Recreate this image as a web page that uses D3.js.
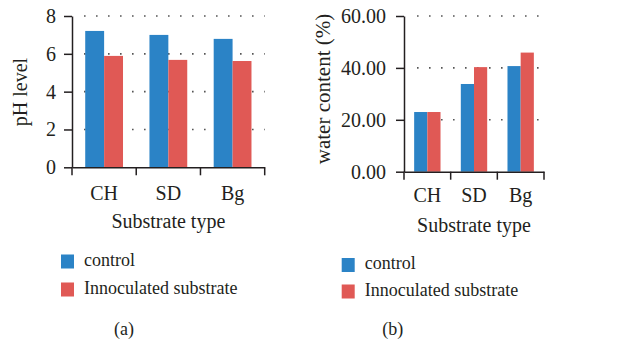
<!DOCTYPE html>
<html>
    <head>
        <script src="https://d3js.org/d3.v7.min.js"></script>
        <style>
            body { margin: 0; background: #fff; }
            text { font-family: "Liberation Serif", serif; fill: #231f20; }
        </style>
    </head>
    <body>
        <div id="chart"></div>
        <script>
            //  data
            const categories = ["CH", "SD", "Bg"];
            const series = ["control", "Innoculated substrate"];
            const phControl = [7.21, 7.0, 6.79];
            const phInoculated = [5.89, 5.68, 5.62];
            const waterControl = [23.0, 33.8, 40.7];
            const waterInoculated = [23.0, 40.3, 45.9];
            const phTicks = [0, 2, 4, 6, 8];
            const waterTicks = [0, 20, 40, 60];

            const color = d3.scaleOrdinal(series, ["#2b83c6", "#e05955"]);

            const svg = d3.select("#chart")
                .append("svg")
                    .attr("width", 618)
                    .attr("height", 347);

            //  one panel = one grouped bar chart
            function panel(opts) {
                const rows = categories.map((c, i) => ({cat: c, vals: [opts.a[i], opts.b[i]]}));

                const x = d3.scaleBand().domain(categories).range([opts.x0, opts.x1]);
                const xs = d3.scaleBand().domain(series).range([0, x.bandwidth()]).paddingOuter(opts.pad);
                const y = d3.scaleLinear().domain([0, opts.max]).range([opts.y0, 16]);

                const g = svg.append("g");

                //  dotted gridlines (not at zero)
                g.append("g")
                    .selectAll("line")
                    .data(opts.ticks.filter(d => d > 0))
                    .join("line")
                        .attr("x1", opts.gx0)
                        .attr("x2", opts.x1)
                        .attr("y1", d => y(d))
                        .attr("y2", d => y(d))
                        .attr("stroke", "#555")
                        .attr("stroke-width", 1.6)
                        .attr("stroke-dasharray", "1.6,10.4");

                //  bars
                g.append("g")
                    .selectAll("g")
                    .data(rows)
                    .join("g")
                        .attr("transform", d => `translate(${x(d.cat)},0)`)
                    .selectAll("rect")
                    .data(d => d.vals.map((v, i) => ({s: series[i], v: v})))
                    .join("rect")
                        .attr("x", d => xs(d.s))
                        .attr("width", xs.bandwidth())
                        .attr("y", d => y(d.v))
                        .attr("height", d => y(0) - y(d.v))
                        .attr("fill", d => color(d.s));

                //  y axis
                const yAxis = g.append("g")
                    .attr("transform", `translate(${opts.x0},0)`)
                    .call(d3.axisLeft(y).tickValues(opts.ticks).tickFormat(opts.fmt).tickSize(8).tickSizeOuter(0).tickPadding(opts.yPad))
                    .attr("font-family", null);
                yAxis.select(".domain").attr("stroke", "#231f20").attr("stroke-width", 1.5);
                yAxis.selectAll(".tick line").attr("stroke", "#231f20").attr("stroke-width", 1.5);
                yAxis.selectAll("text").style("font-size", "20px").attr("fill", "#231f20");

                //  x axis: ticks at band edges, labels at centres
                const xAxis = g.append("g")
                    .attr("transform", `translate(0,${opts.y0})`)
                    .call(d3.axisBottom(x).tickSize(0).tickPadding(opts.labPad))
                    .attr("font-family", null);
                xAxis.select(".domain").attr("stroke", "#231f20").attr("stroke-width", 1.5);
                xAxis.selectAll("text").style("font-size", "20px").attr("fill", "#231f20");
                xAxis.selectAll(".edge")
                    .data(categories.map(c => x(c)).concat([opts.x1]))
                    .join("line")
                        .attr("class", "edge")
                        .attr("x1", d => d)
                        .attr("x2", d => d)
                        .attr("y1", 0)
                        .attr("y2", 8)
                        .attr("stroke", "#231f20")
                        .attr("stroke-width", 1.5);

                //  axis titles
                g.append("text")
                    .attr("x", (opts.x0 + opts.x1) / 2)
                    .attr("y", opts.y0 + opts.titleDy)
                    .attr("text-anchor", "middle")
                    .style("font-size", "20px")
                    .text("Substrate type");

                g.append("text")
                    .attr("transform", `translate(${opts.yLabX},${opts.yLabY}) rotate(-90)`)
                    .attr("text-anchor", "middle")
                    .attr("dy", "0.35em")
                    .style("font-size", opts.yLabSize)
                    .text(opts.yLabel);

                //  legend
                const leg = g.append("g")
                    .selectAll("g")
                    .data(series)
                    .join("g")
                        .attr("transform", (d, i) => `translate(${opts.legX},${opts.legY + i * opts.legStep})`);
                leg.append("rect")
                    .attr("width", 13)
                    .attr("height", 14)
                    .attr("fill", d => color(d));
                leg.append("text")
                    .attr("x", 23)
                    .attr("y", 11)
                    .style("font-size", "18px")
                    .text(d => d);

                //  panel letter
                g.append("text")
                    .attr("x", opts.capX)
                    .attr("y", 335)
                    .attr("text-anchor", "middle")
                    .style("font-size", "18px")
                    .text(opts.cap);
            }

            panel({
                a: phControl, b: phInoculated, max: 8, ticks: phTicks, fmt: d3.format("d"),
                x0: 72, x1: 264.7, gx0: 84, y0: 167.3, pad: 0.7, yPad: 8, labPad: 19, titleDy: 61,
                yLabX: 20, yLabY: 92, yLabSize: "20px", yLabel: "pH level",
                legX: 61, legY: 254.5, legStep: 28, cap: "(a)", capX: 124
            });

            panel({
                a: waterControl, b: waterInoculated, max: 60, ticks: waterTicks, fmt: d3.format(".2f"),
                x0: 404, x1: 544, gx0: 417, y0: 171.7, pad: 0.77, yPad: 10, labPad: 16, titleDy: 60,
                yLabX: 323, yLabY: 89, yLabSize: "21px", yLabel: "water content (%)",
                legX: 341.7, legY: 258, legStep: 26.5, cap: "(b)", capX: 392.7
            });
        </script>
    </body>
</html>
